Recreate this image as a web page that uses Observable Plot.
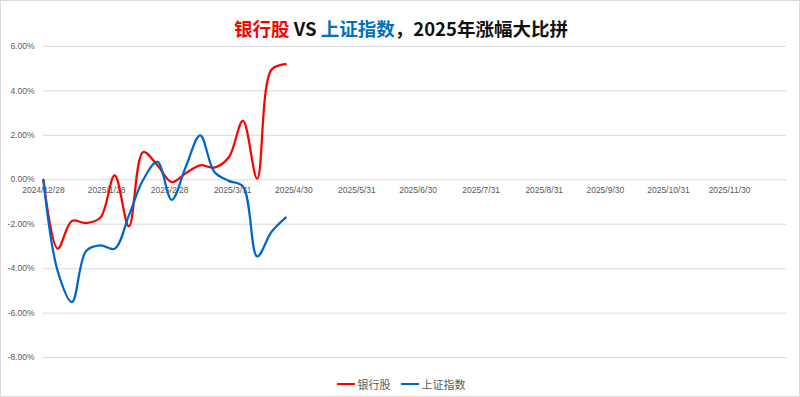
<!DOCTYPE html>
<html>
<head>
<meta charset="utf-8">
<script src="https://cdn.jsdelivr.net/npm/d3@7"></script>
<script src="https://cdn.jsdelivr.net/npm/@observablehq/plot@0.6"></script>
<style>
  html, body { margin: 0; padding: 0; background: #fff; }
  #wrap { position: relative; width: 800px; height: 397px; overflow: hidden; background: #fff;
          box-sizing: border-box; border: 1px solid #d9d9d9; }
  #title { position: absolute; top: 12px; left: 0; width: 800px; text-align: center;
           font-family: "Noto Sans CJK SC", sans-serif; font-weight: bold; font-size: 18.5px; line-height: 30px; color: #111; }
  #legend { position: absolute; top: 370px; left: 0; width: 800px; text-align: center;
            font-family: "Noto Sans CJK SC", sans-serif; font-size: 11px; color: #595959; line-height: 18px; }
  #legend span.item { display: inline-flex; align-items: center; margin: 0 5px; }
  #legend span.sw { display: inline-block; width: 18px; height: 2.5px; margin-right: 3px; }
  #chart { position: absolute; top: 0; left: 0; }
</style>
</head>
<body>
<div id="wrap">
  <div id="chart"></div>
  <div id="title"><span style="color:#ff0000">银行股</span> VS <span style="color:#0070c0">上证指数</span>，2025年涨幅大比拼</div>
  <div id="legend"></div>
</div>
<script>
// Weekly observation dates
const dates = ["2024-12-28","2025-01-04","2025-01-11","2025-01-18","2025-01-25","2025-02-01",
  "2025-02-08","2025-02-15","2025-02-22","2025-03-01","2025-03-08","2025-03-15",
  "2025-03-22","2025-03-29","2025-04-05","2025-04-12","2025-04-19","2025-04-26"];
// Cumulative change, percent
const bankValues = [0, -3.1, -1.85, -1.95, -1.7, 0.2, -2.1, 1.25, 0.65, -0.1, 0.3, 0.65,
  0.55, 1.0, 2.65, 0.05, 4.95, 5.2];
const indexValues = [0, -4.1, -5.5, -3.2, -2.95, -3.1, -1.6, 0.0, 0.8, -0.9, 0.6, 2.0,
  0.35, -0.05, -0.3, -3.45, -2.35, -1.7];
const seriesNames = ["银行股", "上证指数"];
const seriesColors = ["#ff0000", "#0066cc"];
const yTicks = [-8, -6, -4, -2, 0, 2, 4, 6];
const xTickDates = ["2024-12-28","2025-01-28","2025-02-28","2025-03-31","2025-04-30","2025-05-31",
  "2025-06-30","2025-07-31","2025-08-31","2025-09-30","2025-10-31","2025-11-30"];
const xTickLabels = ["2024/12/28","2025/1/28","2025/2/28","2025/3/31","2025/4/30","2025/5/31",
  "2025/6/30","2025/7/31","2025/8/31","2025/9/30","2025/10/31","2025/11/30"];
const xDomain = ["2024-12-28", "2025-12-28"];

const parse = d3.utcParse("%Y-%m-%d");
const rows = [];
dates.forEach((d, i) => {
  rows.push({date: parse(d), value: bankValues[i], series: seriesNames[0]});
  rows.push({date: parse(d), value: indexValues[i], series: seriesNames[1]});
});
const ticks = xTickDates.map((d, i) => ({date: parse(d), label: xTickLabels[i]}));

const chart = Plot.plot({
  width: 800,
  height: 397,
  marginLeft: 42,
  marginRight: 13,
  marginTop: 45,
  marginBottom: 40,
  style: {fontFamily: "Liberation Sans, Arial, sans-serif", fontSize: "8.5px", color: "#595959", background: "transparent"},
  x: {type: "utc", domain: xDomain.map(parse), axis: null},
  y: {domain: [-8, 6], axis: null},
  color: {domain: seriesNames, range: seriesColors},
  marks: [
    Plot.ruleY(yTicks, {stroke: "#d9d9d9", strokeWidth: 1}),
    Plot.axisY({ticks: yTicks, tickSize: 0, tickPadding: 9, label: null, tickFormat: d => d.toFixed(2) + "%", fill: "#595959"}),
    Plot.text(ticks, {x: "date", y: () => 0, text: "label", dy: 11, fill: "#595959"}),
    Plot.line(rows, {x: "date", y: "value", z: "series", stroke: "series", strokeWidth: 2.25, curve: "catmull-rom"})
  ]
});
document.getElementById("chart").appendChild(chart);

const legend = document.getElementById("legend");
seriesNames.forEach((n, i) => {
  const item = document.createElement("span");
  item.className = "item";
  item.innerHTML = `<span class="sw" style="background:${seriesColors[i]}"></span>${n}`;
  legend.appendChild(item);
});
</script>
</body>
</html>
